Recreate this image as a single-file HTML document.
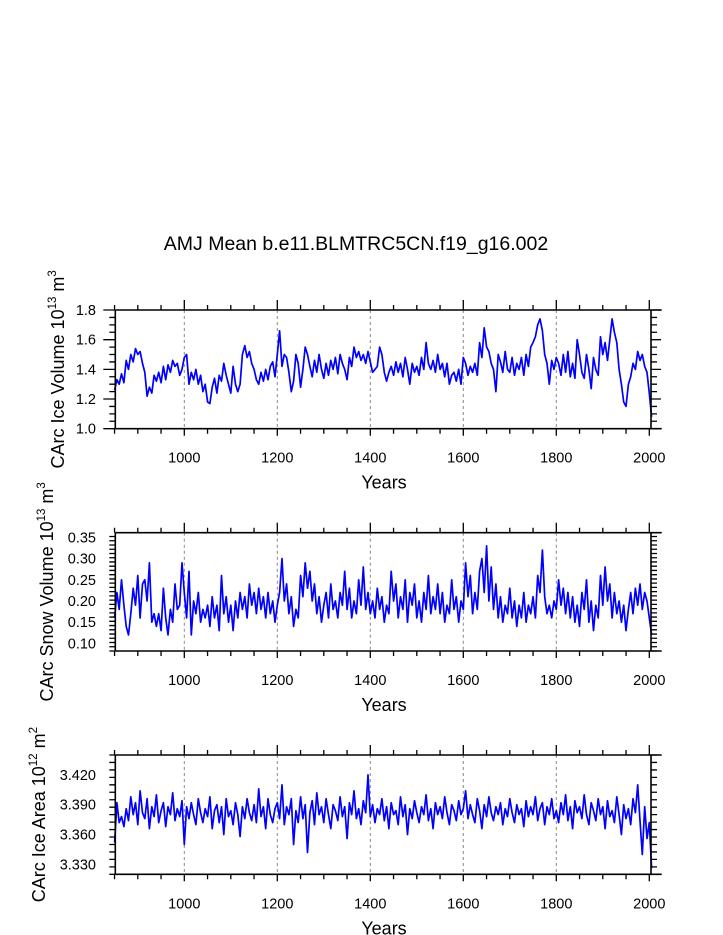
<!DOCTYPE html>
<html><head><meta charset="utf-8"><style>
html,body{margin:0;padding:0;background:#fff;}
svg{display:block;font-family:"Liberation Sans",Arial,sans-serif;}
</style></head><body>
<svg id="chart" width="723" height="935" viewBox="0 0 723 935" xmlns="http://www.w3.org/2000/svg">
<text x="356" y="250" font-size="19.5" text-anchor="middle">AMJ Mean b.e11.BLMTRC5CN.f19_g16.002</text>
</svg>
<script>
const yearStart = 850;
const yearStep = 5;
const xTickLabels = ["1000","1200","1400","1600","1800","2000"];
const iceVolume = [1.26,1.33,1.30,1.37,1.31,1.46,1.40,1.50,1.45,1.54,1.50,1.52,1.44,1.38,1.22,1.28,1.24,1.36,1.32,1.38,1.31,1.42,1.33,1.43,1.38,1.46,1.42,1.44,1.36,1.40,
1.48,1.50,1.30,1.38,1.33,1.40,1.30,1.36,1.25,1.30,1.18,1.17,1.28,1.34,1.24,1.36,1.32,1.44,1.36,1.30,1.24,1.42,1.30,1.25,1.30,1.50,1.56,1.48,1.52,1.44,
1.40,1.33,1.30,1.38,1.32,1.40,1.33,1.42,1.45,1.35,1.50,1.66,1.42,1.50,1.48,1.38,1.25,1.32,1.50,1.44,1.28,1.40,1.55,1.50,1.42,1.35,1.46,1.38,1.50,1.40,
1.34,1.44,1.36,1.46,1.40,1.48,1.37,1.50,1.44,1.40,1.33,1.48,1.42,1.55,1.48,1.52,1.46,1.50,1.44,1.52,1.45,1.38,1.40,1.42,1.55,1.50,1.38,1.32,1.38,1.42,
1.36,1.45,1.38,1.44,1.35,1.48,1.40,1.30,1.44,1.38,1.42,1.36,1.48,1.40,1.58,1.44,1.40,1.46,1.38,1.50,1.40,1.44,1.35,1.44,1.30,1.36,1.38,1.32,1.40,1.30,
1.48,1.44,1.36,1.42,1.38,1.44,1.36,1.58,1.48,1.68,1.55,1.52,1.44,1.40,1.25,1.50,1.45,1.38,1.52,1.40,1.38,1.48,1.36,1.44,1.40,1.48,1.36,1.50,1.42,1.55,
1.58,1.62,1.70,1.74,1.66,1.50,1.44,1.30,1.46,1.40,1.48,1.44,1.36,1.50,1.38,1.52,1.35,1.44,1.34,1.60,1.50,1.38,1.34,1.50,1.40,1.27,1.48,1.40,1.36,1.62,
1.50,1.58,1.46,1.60,1.74,1.65,1.58,1.40,1.30,1.18,1.15,1.30,1.35,1.44,1.40,1.52,1.46,1.50,1.42,1.38,1.24,1.08];
const snowVolume = [0.16,0.22,0.18,0.25,0.19,0.14,0.12,0.17,0.23,0.19,0.26,0.16,0.24,0.25,0.20,0.29,0.15,0.17,0.14,0.17,0.13,0.23,0.16,0.12,0.18,0.15,0.24,0.18,0.19,0.29,
0.22,0.16,0.27,0.12,0.20,0.17,0.22,0.15,0.18,0.16,0.19,0.14,0.21,0.16,0.19,0.13,0.26,0.17,0.21,0.15,0.19,0.13,0.20,0.16,0.22,0.18,0.21,0.16,0.24,0.19,
0.22,0.17,0.23,0.18,0.21,0.16,0.22,0.17,0.20,0.15,0.19,0.22,0.30,0.20,0.24,0.17,0.21,0.14,0.18,0.16,0.26,0.21,0.29,0.23,0.27,0.20,0.24,0.17,0.21,0.15,
0.19,0.22,0.16,0.24,0.18,0.20,0.16,0.22,0.19,0.27,0.18,0.23,0.16,0.20,0.17,0.25,0.19,0.28,0.18,0.22,0.17,0.20,0.16,0.23,0.18,0.21,0.15,0.19,0.17,0.27,
0.20,0.24,0.16,0.21,0.18,0.25,0.15,0.22,0.19,0.24,0.16,0.20,0.15,0.22,0.18,0.26,0.17,0.21,0.18,0.24,0.17,0.22,0.15,0.19,0.17,0.25,0.18,0.21,0.15,0.20,
0.18,0.29,0.21,0.26,0.17,0.22,0.18,0.27,0.30,0.22,0.33,0.20,0.28,0.18,0.24,0.16,0.21,0.15,0.19,0.17,0.23,0.16,0.20,0.14,0.19,0.16,0.22,0.15,0.19,0.17,
0.21,0.16,0.26,0.22,0.32,0.21,0.17,0.19,0.16,0.20,0.18,0.25,0.19,0.23,0.17,0.22,0.16,0.21,0.15,0.19,0.14,0.22,0.18,0.25,0.15,0.20,0.13,0.19,0.16,0.26,
0.19,0.28,0.20,0.24,0.16,0.22,0.17,0.20,0.15,0.19,0.13,0.18,0.22,0.17,0.23,0.19,0.24,0.18,0.22,0.20,0.16,0.12];
const iceArea = [3.352,3.392,3.372,3.378,3.368,3.386,3.374,3.398,3.380,3.392,3.370,3.404,3.382,3.376,3.396,3.366,3.388,3.378,3.400,3.372,3.384,3.392,3.368,3.388,3.380,3.402,3.374,3.386,3.378,3.394,
3.350,3.388,3.376,3.392,3.380,3.370,3.396,3.382,3.372,3.386,3.378,3.398,3.366,3.384,3.390,3.372,3.388,3.360,3.396,3.378,3.384,3.370,3.392,3.380,3.358,3.388,3.376,3.396,3.382,3.374,
3.390,3.372,3.406,3.378,3.388,3.366,3.396,3.380,3.372,3.386,3.392,3.376,3.410,3.370,3.388,3.380,3.396,3.350,3.384,3.372,3.398,3.376,3.390,3.342,3.382,3.394,3.370,3.402,3.380,3.388,
3.372,3.396,3.380,3.366,3.390,3.384,3.374,3.398,3.378,3.388,3.356,3.392,3.380,3.404,3.376,3.386,3.370,3.394,3.382,3.420,3.378,3.390,3.372,3.386,3.380,3.396,3.374,3.388,3.366,3.392,
3.380,3.384,3.370,3.398,3.378,3.390,3.360,3.386,3.376,3.394,3.382,3.372,3.388,3.380,3.400,3.374,3.386,3.366,3.392,3.380,3.388,3.376,3.398,3.382,3.370,3.390,3.384,3.374,3.394,3.380,
3.386,3.404,3.376,3.390,3.380,3.372,3.396,3.384,3.366,3.390,3.378,3.398,3.382,3.374,3.388,3.380,3.392,3.370,3.386,3.378,3.396,3.382,3.372,3.390,3.380,3.386,3.368,3.394,3.378,3.388,
3.380,3.398,3.374,3.386,3.392,3.370,3.388,3.380,3.396,3.376,3.384,3.372,3.392,3.380,3.400,3.374,3.388,3.366,3.394,3.382,3.388,3.376,3.400,3.380,3.370,3.392,3.384,3.374,3.396,3.380,
3.388,3.366,3.394,3.378,3.384,3.372,3.398,3.380,3.360,3.390,3.376,3.386,3.370,3.396,3.382,3.410,3.374,3.340,3.388,3.356,3.372,3.326];

const NS = "http://www.w3.org/2000/svg";
const svg = document.getElementById('chart');
function mk(tag, attrs, parent) {
  const e = document.createElementNS(NS, tag);
  for (const k in attrs) e.setAttribute(k, attrs[k]);
  (parent || svg).appendChild(e);
  return e;
}
const X0 = 115.3, XR = 661.7, XIN = 651;
const xScale = y => 184.3 + (y - 1000) * 0.465;

function panel(cfg) {
  const g = mk('g', {});
  
  
  const yScale = v => cfg.top + (cfg.yMax - v) / (cfg.yMax - cfg.yMin) * (cfg.bot - cfg.top);
  for (let yr = 1000; yr <= 1800; yr += 200) {
    const gl = mk('line', {x1: xScale(yr), x2: xScale(yr), y1: cfg.top, y2: cfg.bot, stroke: '#888', 'stroke-width': 1, 'stroke-dasharray': '3,3'}, g);
    
    
  }
  let d = '';
  cfg.data.forEach((v, i) => {
    d += (i ? 'L' : 'M') + xScale(yearStart + i * yearStep).toFixed(1) + ',' + yScale(v).toFixed(1);
  });
  const p = mk('path', {d: d, fill: 'none', stroke: '#0000ff', 'stroke-width': 1.7, 'stroke-linejoin': 'round'}, g);
  
  
  const fr = mk('path', {d: `M${X0},${cfg.top}H${XR}M${X0},${cfg.bot}H${XR}M${X0},${cfg.top}V${cfg.bot}M${XIN},${cfg.top}V${cfg.bot}`, stroke: '#000', 'stroke-width': 1.6, fill: 'none'}, g);
  
  
  let td = '';
  for (let yr = 850; yr <= 2000; yr += 50) {
    const x = xScale(yr);
    if (yr % 200 === 0) td += `M${x},${cfg.top - 10}V${cfg.top}M${x},${cfg.bot}V${cfg.bot + 7}`;
    else td += `M${x},${cfg.top - 5}V${cfg.top}M${x},${cfg.bot}V${cfg.bot + 5}`;
  }
  for (let v = cfg.yMin; v <= cfg.yMax + 1e-9; v += cfg.minor) {
    const y = yScale(v);
    if (y < cfg.top - 0.5 || y > cfg.bot + 0.5) continue;
    const isMajor = Math.abs(((v - cfg.major0) / cfg.major) - Math.round((v - cfg.major0) / cfg.major)) < 1e-6;
    const l = isMajor ? 12 : 6, r = isMajor ? 10 : 6;
    td += `M${X0 - l},${y}H${X0}M${XIN},${y}H${XIN + r}`;
  }
  const tk = mk('path', {d: td, stroke: '#000', 'stroke-width': 1.3, fill: 'none'}, g);
  
  
  xTickLabels.forEach(s => {
    const t = mk('text', {x: xScale(+s), y: cfg.bot + 34, 'font-size': 14.5, 'text-anchor': 'middle'}, g);
    t.textContent = s;
    
    
  });
  cfg.yLabels.forEach(s => {
    const t = mk('text', {x: 96, y: yScale(+s) + 5, 'font-size': 14.5, 'text-anchor': 'end'}, g);
    t.textContent = s;
    
    
  });
  const xt = mk('text', {x: 384, y: cfg.bot + 60, 'font-size': 18, 'text-anchor': 'middle'}, g);
  xt.textContent = 'Years';
  
  
  const cy = (cfg.top + cfg.bot) / 2;
  const yt = mk('text', {x: 0, y: 0, 'font-size': 18, 'text-anchor': 'middle', transform: `translate(${cfg.titleX},${cy}) rotate(-90)`}, g);
  
  
  yt.innerHTML = cfg.title + ' 10<tspan dy="-8" font-size="11.5">' + cfg.exp + '</tspan><tspan dy="8"> m</tspan><tspan dy="-8" font-size="11.5">' + cfg.unitExp + '</tspan>';
}

panel({name: 'ice-volume-panel', data: iceVolume, top: 310, bot: 428.7, yMin: 1.0, yMax: 1.8, minor: 0.05, major: 0.2, major0: 1.0,
  yLabels: ["1.0","1.2","1.4","1.6","1.8"], title: 'CArc Ice Volume', exp: '13', unitExp: '3', titleX: 64});
panel({name: 'snow-volume-panel', data: snowVolume, top: 532.7, bot: 651, yMin: 0.082, yMax: 0.361, minor: 0.01, major: 0.05, major0: 0.10,
  yLabels: ["0.10","0.15","0.20","0.25","0.30","0.35"], title: 'CArc Snow Volume', exp: '13', unitExp: '3', titleX: 53});
panel({name: 'ice-area-panel', data: iceArea, top: 755, bot: 874.3, yMin: 3.320, yMax: 3.440, minor: 0.0075, major: 0.030, major0: 3.330,
  yLabels: ["3.330","3.360","3.390","3.420"], title: 'CArc Ice Area', exp: '12', unitExp: '2', titleX: 45});
</script>
</body></html>
